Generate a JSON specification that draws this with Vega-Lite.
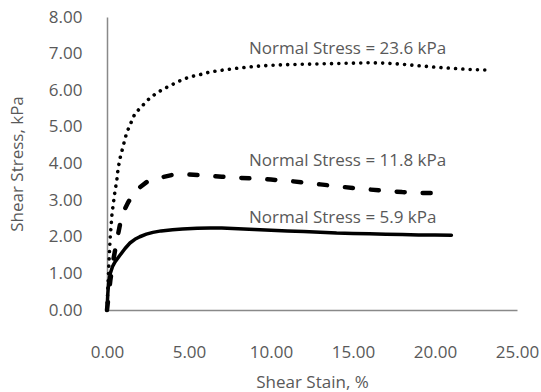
{
  "$schema": "https://vega.github.io/schema/vega-lite/v6.json",
  "width": 410,
  "height": 293,
  "autosize": {"type": "none"},
  "padding": {"left": 107, "top": 17, "right": 24, "bottom": 82},
  "background": "white",
  "config": {
    "view": {"stroke": null},
    "font": "Open Sans",
    "axis": {
      "grid": false,
      "ticks": false,
      "labelFlush": false,
      "labelOverlap": false,
      "domainColor": "#898989",
      "domainWidth": 1.5,
      "labelColor": "#595959",
      "labelFont": "Open Sans",
      "labelFontSize": 17,
      "titleColor": "#595959",
      "titleFont": "Open Sans",
      "titleFontSize": 17,
      "titleFontWeight": "normal"
    }
  },
  "datasets": {
    "curves": [
      {"series": "5.9", "strain": 0, "stress": 0},
      {"series": "5.9", "strain": 0.05, "stress": 0.45},
      {"series": "5.9", "strain": 0.1, "stress": 0.75},
      {"series": "5.9", "strain": 0.2, "stress": 1.0},
      {"series": "5.9", "strain": 0.35, "stress": 1.2},
      {"series": "5.9", "strain": 0.5, "stress": 1.32},
      {"series": "5.9", "strain": 0.8, "stress": 1.5},
      {"series": "5.9", "strain": 1.1, "stress": 1.68},
      {"series": "5.9", "strain": 1.4, "stress": 1.83},
      {"series": "5.9", "strain": 1.7, "stress": 1.93},
      {"series": "5.9", "strain": 2.0, "stress": 2.0},
      {"series": "5.9", "strain": 2.4, "stress": 2.07},
      {"series": "5.9", "strain": 2.8, "stress": 2.12},
      {"series": "5.9", "strain": 3.3, "stress": 2.16},
      {"series": "5.9", "strain": 4.0, "stress": 2.19},
      {"series": "5.9", "strain": 4.6, "stress": 2.21},
      {"series": "5.9", "strain": 5.5, "stress": 2.23},
      {"series": "5.9", "strain": 6.3, "stress": 2.24},
      {"series": "5.9", "strain": 7.0, "stress": 2.24},
      {"series": "5.9", "strain": 8.0, "stress": 2.22},
      {"series": "5.9", "strain": 9.0, "stress": 2.2},
      {"series": "5.9", "strain": 10.0, "stress": 2.18},
      {"series": "5.9", "strain": 11.0, "stress": 2.16},
      {"series": "5.9", "strain": 12.0, "stress": 2.14},
      {"series": "5.9", "strain": 13.0, "stress": 2.12},
      {"series": "5.9", "strain": 14.0, "stress": 2.1},
      {"series": "5.9", "strain": 15.0, "stress": 2.09},
      {"series": "5.9", "strain": 16.0, "stress": 2.08},
      {"series": "5.9", "strain": 17.0, "stress": 2.07},
      {"series": "5.9", "strain": 18.0, "stress": 2.06},
      {"series": "5.9", "strain": 19.0, "stress": 2.05},
      {"series": "5.9", "strain": 20.0, "stress": 2.05},
      {"series": "5.9", "strain": 21.0, "stress": 2.04},
      {"series": "11.8", "strain": 0, "stress": 0},
      {"series": "11.8", "strain": 0.2, "stress": 0.8},
      {"series": "11.8", "strain": 0.4, "stress": 1.4},
      {"series": "11.8", "strain": 0.6, "stress": 1.9},
      {"series": "11.8", "strain": 0.8, "stress": 2.35},
      {"series": "11.8", "strain": 1.0, "stress": 2.68},
      {"series": "11.8", "strain": 1.3, "stress": 2.95},
      {"series": "11.8", "strain": 1.8, "stress": 3.28},
      {"series": "11.8", "strain": 2.5, "stress": 3.52},
      {"series": "11.8", "strain": 3.3, "stress": 3.62},
      {"series": "11.8", "strain": 4.0, "stress": 3.69},
      {"series": "11.8", "strain": 4.9, "stress": 3.7},
      {"series": "11.8", "strain": 6.0, "stress": 3.67},
      {"series": "11.8", "strain": 7.0, "stress": 3.64},
      {"series": "11.8", "strain": 8.0, "stress": 3.61},
      {"series": "11.8", "strain": 9.0, "stress": 3.59},
      {"series": "11.8", "strain": 10.0, "stress": 3.56},
      {"series": "11.8", "strain": 11.0, "stress": 3.53},
      {"series": "11.8", "strain": 12.0, "stress": 3.48},
      {"series": "11.8", "strain": 13.0, "stress": 3.43},
      {"series": "11.8", "strain": 14.0, "stress": 3.38},
      {"series": "11.8", "strain": 15.0, "stress": 3.33},
      {"series": "11.8", "strain": 16.0, "stress": 3.29},
      {"series": "11.8", "strain": 17.0, "stress": 3.25},
      {"series": "11.8", "strain": 18.0, "stress": 3.22},
      {"series": "11.8", "strain": 19.0, "stress": 3.2},
      {"series": "11.8", "strain": 20.0, "stress": 3.19},
      {"series": "11.8", "strain": 20.8, "stress": 3.19},
      {"series": "23.6", "strain": 0, "stress": 0},
      {"series": "23.6", "strain": 0.05, "stress": 0.6},
      {"series": "23.6", "strain": 0.1, "stress": 1.1},
      {"series": "23.6", "strain": 0.15, "stress": 1.6},
      {"series": "23.6", "strain": 0.2, "stress": 2.0},
      {"series": "23.6", "strain": 0.3, "stress": 2.6},
      {"series": "23.6", "strain": 0.4, "stress": 2.95},
      {"series": "23.6", "strain": 0.49, "stress": 3.25},
      {"series": "23.6", "strain": 0.6, "stress": 3.55},
      {"series": "23.6", "strain": 0.68, "stress": 3.87},
      {"series": "23.6", "strain": 0.8, "stress": 4.15},
      {"series": "23.6", "strain": 1.0, "stress": 4.5},
      {"series": "23.6", "strain": 1.2, "stress": 4.84},
      {"series": "23.6", "strain": 1.45, "stress": 5.1},
      {"series": "23.6", "strain": 1.7, "stress": 5.36},
      {"series": "23.6", "strain": 2.1, "stress": 5.55},
      {"series": "23.6", "strain": 2.5, "stress": 5.74},
      {"series": "23.6", "strain": 3.0, "stress": 5.92},
      {"series": "23.6", "strain": 3.6, "stress": 6.07},
      {"series": "23.6", "strain": 4.3, "stress": 6.23},
      {"series": "23.6", "strain": 5.0, "stress": 6.36},
      {"series": "23.6", "strain": 5.7, "stress": 6.43},
      {"series": "23.6", "strain": 6.3, "stress": 6.5},
      {"series": "23.6", "strain": 7.2, "stress": 6.56},
      {"series": "23.6", "strain": 8.1, "stress": 6.61},
      {"series": "23.6", "strain": 9.0, "stress": 6.65},
      {"series": "23.6", "strain": 9.9, "stress": 6.68},
      {"series": "23.6", "strain": 11.0, "stress": 6.7},
      {"series": "23.6", "strain": 12.0, "stress": 6.71},
      {"series": "23.6", "strain": 13.0, "stress": 6.72},
      {"series": "23.6", "strain": 14.0, "stress": 6.73},
      {"series": "23.6", "strain": 15.0, "stress": 6.74},
      {"series": "23.6", "strain": 16.0, "stress": 6.75},
      {"series": "23.6", "strain": 17.0, "stress": 6.74},
      {"series": "23.6", "strain": 18.0, "stress": 6.71},
      {"series": "23.6", "strain": 19.0, "stress": 6.67},
      {"series": "23.6", "strain": 20.0, "stress": 6.63},
      {"series": "23.6", "strain": 21.0, "stress": 6.6},
      {"series": "23.6", "strain": 22.0, "stress": 6.57},
      {"series": "23.6", "strain": 23.2, "stress": 6.55}
    ],
    "labels": [
      {"strain": 8.66, "stress": 7.13, "label": "Normal Stress = 23.6 kPa"},
      {"strain": 8.66, "stress": 4.07, "label": "Normal Stress = 11.8 kPa"},
      {"strain": 8.66, "stress": 2.51, "label": "Normal Stress = 5.9 kPa"}
    ]
  },
  "encoding": {
    "x": {
      "field": "strain",
      "type": "quantitative",
      "scale": {"domain": [0, 25], "nice": false},
      "axis": {
        "title": "Shear Stain, %",
        "values": [0, 5, 10, 15, 20, 25],
        "format": ".2f",
        "labelPadding": 42,
        "labelBaseline": "middle",
        "titleY": 72,
        "titleBaseline": "middle"
      }
    },
    "y": {
      "field": "stress",
      "type": "quantitative",
      "scale": {"domain": [0, 8], "nice": false},
      "axis": {
        "title": "Shear Stress, kPa",
        "values": [0, 1, 2, 3, 4, 5, 6, 7, 8],
        "format": ".2f",
        "labelPadding": 25,
        "titleX": -90,
        "titleY": 146.5,
        "titleAngle": -90,
        "titleAlign": "center",
        "titleBaseline": "middle"
      }
    }
  },
  "layer": [
    {
      "data": {"name": "curves"},
      "transform": [{"filter": "datum.series === '5.9'"}],
      "mark": {"type": "line", "color": "black", "strokeWidth": 3.5, "strokeCap": "round", "strokeJoin": "round"}
    },
    {
      "data": {"name": "curves"},
      "transform": [{"filter": "datum.series === '11.8'"}],
      "mark": {"type": "line", "color": "black", "strokeWidth": 4.5, "strokeCap": "round", "strokeDash": [8, 18], "strokeJoin": "round"}
    },
    {
      "data": {"name": "curves"},
      "transform": [{"filter": "datum.series === '23.6'"}],
      "mark": {"type": "line", "color": "black", "strokeWidth": 3.6, "strokeCap": "round", "strokeDash": [0.01, 7.3]}
    },
    {
      "data": {"name": "labels"},
      "mark": {"type": "text", "align": "left", "baseline": "middle", "font": "Open Sans", "fontSize": 17, "color": "#595959"},
      "encoding": {"text": {"field": "label"}}
    }
  ]
}
